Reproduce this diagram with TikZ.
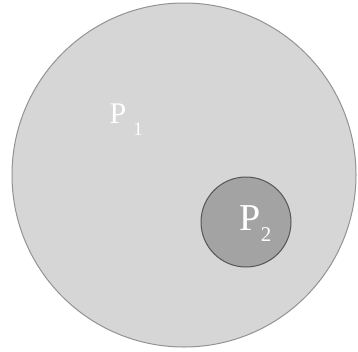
\documentclass[tikz,border=0pt]{standalone}
\usepackage{fontspec}
\setmainfont{Liberation Serif}
\definecolor{bigfill}{HTML}{D6D6D6}
\definecolor{bigline}{HTML}{939393}
\definecolor{smallfill}{HTML}{A3A3A3}
\definecolor{smallline}{HTML}{555555}
\tikzset{
  region/.style={line width=1pt},
  lbl/.style={text=white, inner sep=0pt, anchor=base west}
}
\begin{document}
\begin{tikzpicture}[x=1pt,y=-1pt]
\useasboundingbox[fill=white] (0,0) rectangle (358,351);
\draw[region, fill=bigfill, draw=bigline] (184,175) circle[radius=172];
\draw[region, fill=smallfill, draw=smallline] (246,222) circle[radius=45];
\node[lbl, font=\fontsize{30}{30}\selectfont] (p1) at (109.5,123) {P\hspace{7pt}\raisebox{-12pt}{\fontsize{19}{19}\selectfont 1}};
\node[lbl, font=\fontsize{38}{38}\selectfont] (p2) at (239.5,230) {P\hspace{0pt}\raisebox{-11pt}{\fontsize{21}{21}\selectfont 2}};
\end{tikzpicture}
\end{document}
